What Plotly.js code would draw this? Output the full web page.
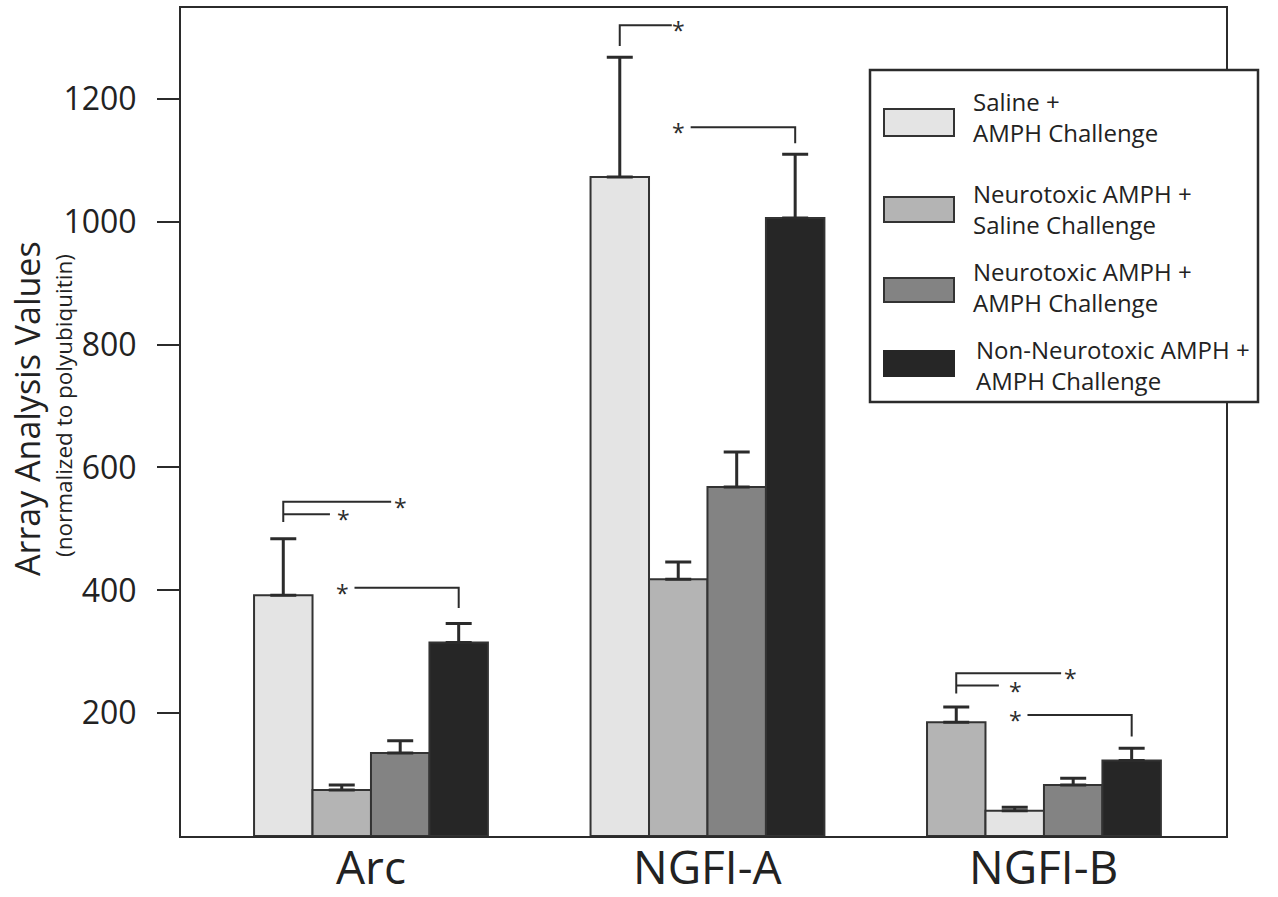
<!DOCTYPE html>
<html>
<head>
<meta charset="utf-8">
<script src="https://cdn.plot.ly/plotly-3.0.1.min.js"></script>
<style>html,body{margin:0;padding:0;background:#fff;}#chart{width:1278px;height:897px;}</style>
</head>
<body>
<div id="chart"></div>
<script>
// ---- data ----
var categories = ["Arc", "NGFI-A", "NGFI-B"];
var seriesNames = [
  "Saline +<br>AMPH Challenge",
  "Neurotoxic AMPH +<br>Saline Challenge",
  "Neurotoxic AMPH +<br>AMPH Challenge",
  "Non-Neurotoxic AMPH +<br>AMPH Challenge"
];
var salineAmph      = [392, 1073, 185];
var neuroSaline     = [75, 418, 41];
var neuroAmph       = [135, 568, 83];
var nonNeuroAmph    = [315, 1006, 123];
var salineAmphErr   = [92, 195, 25];
var neuroSalineErr  = [8, 28, 6];
var neuroAmphErr    = [20, 57, 11];
var nonNeuroAmphErr = [31, 104, 20];
var yTickVals = [200, 400, 600, 800, 1000, 1200];

// colours (first two swap for NGFI-B, as in the figure)
var cLight = "#e4e4e4", cMidLight = "#b4b4b4", cMid = "#838383", cDark = "#262626";
var barColors = [
  [cLight, cLight, cMidLight],
  [cMidLight, cMidLight, cLight],
  [cMid, cMid, cMid],
  [cDark, cDark, cDark]
];
var seriesValues = [salineAmph, neuroSaline, neuroAmph, nonNeuroAmph];
var seriesErrors = [salineAmphErr, neuroSalineErr, neuroAmphErr, nonNeuroAmphErr];
var legendColors = [cLight, cMidLight, cMid, cDark];

var FONT = "Open Sans, Noto Sans, sans-serif";
var INK = "#2b2b2b";

var traces = seriesValues.map(function (vals, i) {
  return {
    type: "bar",
    name: seriesNames[i].replace("<br>", " "),
    x: categories,
    y: vals,
    marker: { color: barColors[i], line: { color: "#333", width: 2 } },
    error_y: { type: "data", array: seriesErrors[i], symmetric: false, arrayminus: vals.map(function(){return 0;}),
               color: INK, thickness: 3, width: 13 },
    showlegend: false,
    hoverinfo: "x+y"
  };
});

// ---- significance brackets ----
var BW = 0.1738; // bar width in category units
function bc(g, b) { return g + (b - 1.5) * BW; }
var shapes = [], annotations = [];
function line(path) {
  shapes.push({ type: "path", xref: "x", yref: "y", path: path, line: { color: INK, width: 2 } });
}
function star(x, y) {
  annotations.push({ xref: "x", yref: "y", x: x, y: y, text: "*", showarrow: false,
    font: { family: FONT, size: 23, color: INK }, xanchor: "center", yanchor: "middle", yshift: -5 });
}
var bracketGroups  = [0, 2];
var bracketTop     = [544, 265];
var bracketLow     = [524, 245];
var bracketBase    = [511, 232];
var bracketTopEnd  = [0.060, 0.051];
var bracketTopStar = [0.089, 0.080];
var bracketLowEnd  = [-0.122, -0.134];
var bracketLowStar = [-0.083, -0.086];
var bracketSecY    = [404, 197];
var bracketSecDown = [371, 162];
bracketGroups.forEach(function (g, k) {
  var x0 = bc(g, 0);
  line("M" + x0 + "," + bracketBase[k] + " L" + x0 + "," + bracketTop[k] + " L" + (g + bracketTopEnd[k]) + "," + bracketTop[k]);
  star(g + bracketTopStar[k], bracketTop[k]);
  line("M" + x0 + "," + bracketLow[k] + " L" + (g + bracketLowEnd[k]) + "," + bracketLow[k]);
  star(g + bracketLowStar[k], bracketLow[k]);
  var x3 = bc(g, 3);
  star(g - 0.084, bracketSecY[k]);
  line("M" + (g - 0.049) + "," + bracketSecY[k] + " L" + x3 + "," + bracketSecY[k] + " L" + x3 + "," + bracketSecDown[k]);
});
// NGFI-A brackets
(function () {
  var g = 1, x0 = bc(g, 0), x3 = bc(g, 3);
  line("M" + x0 + ",1286 L" + x0 + ",1320 L" + (g - 0.106) + ",1320");
  star(g - 0.085, 1320);
  star(g - 0.085, 1154);
  line("M" + (g - 0.05) + ",1154 L" + x3 + ",1154 L" + x3 + ",1128");
})();

// ---- custom legend (pixel helpers) ----
var L = 181, R = 1226, T = 8, B = 836;
function pxX(px) { return (px - L) / (R - L); }
function pxY(py) { return (B - py) / (B - T); }
shapes.push({ type: "rect", xref: "paper", yref: "paper", x0: pxX(870), x1: pxX(1258), y0: pxY(402), y1: pxY(70),
  line: { color: INK, width: 2.5 }, fillcolor: "#fff", layer: "above" });
var swTop = [109, 197, 278, 351], swBot = [136, 222, 302, 376], txtY = [117, 209, 287, 365], txtX = [971, 971, 971, 974];
legendColors.forEach(function (c, i) {
  shapes.push({ type: "rect", xref: "paper", yref: "paper", x0: pxX(884), x1: pxX(954), y0: pxY(swBot[i]), y1: pxY(swTop[i]),
    fillcolor: c, line: { color: i === 3 ? c : "#333", width: 2 }, layer: "above" });
  annotations.push({ xref: "paper", yref: "paper", x: pxX(txtX[i]), y: pxY(txtY[i]), xanchor: "left", yanchor: "middle",
    align: "left", text: seriesNames[i], showarrow: false, font: { family: FONT, size: 24, color: "#222" } });
});

// ---- x category labels ----
categories.forEach(function (c, i) {
  annotations.push({ xref: "x", yref: "paper", x: i, y: pxY(833), xanchor: "center", yanchor: "top",
    text: c, showarrow: false, font: { family: FONT, size: 46, color: "#222" } });
});

// ---- y title ----
annotations.push({ xref: "paper", yref: "paper", x: pxX(27), y: pxY(409), xanchor: "center", yanchor: "middle",
  textangle: -90, text: "Array Analysis Values", showarrow: false, font: { family: FONT, size: 34, color: "#222" } });
annotations.push({ xref: "paper", yref: "paper", x: pxX(63), y: pxY(406), xanchor: "center", yanchor: "middle",
  textangle: -90, text: "(normalized to polyubiquitin)", showarrow: false, font: { family: FONT, size: 22.5, color: "#222" } });

var layout = {
  width: 1278, height: 897,
  margin: { l: L, r: 1278 - R, t: T, b: 897 - B },
  paper_bgcolor: "#fff", plot_bgcolor: "#fff",
  barmode: "group", bargap: 0.305, bargroupgap: 0,
  font: { family: FONT, color: "#222" },
  xaxis: { type: "category", range: [-0.5646, 2.541], showgrid: false, zeroline: false,
    showline: true, mirror: true, linecolor: INK, linewidth: 2, ticks: "", showticklabels: false, fixedrange: true },
  yaxis: { range: [0, 1348], showgrid: false, zeroline: false, showline: true, mirror: true,
    linecolor: INK, linewidth: 2, ticks: "outside", ticklen: 22, tickwidth: 2, tickcolor: INK,
    tickvals: yTickVals, ticktext: yTickVals.map(String),
    tickfont: { family: FONT, size: 32, color: "#222" }, ticklabelstandoff: 14, fixedrange: true },
  shapes: shapes,
  annotations: annotations
};

Plotly.newPlot("chart", traces, layout, { displayModeBar: false, staticPlot: true });
</script>
</body>
</html>
